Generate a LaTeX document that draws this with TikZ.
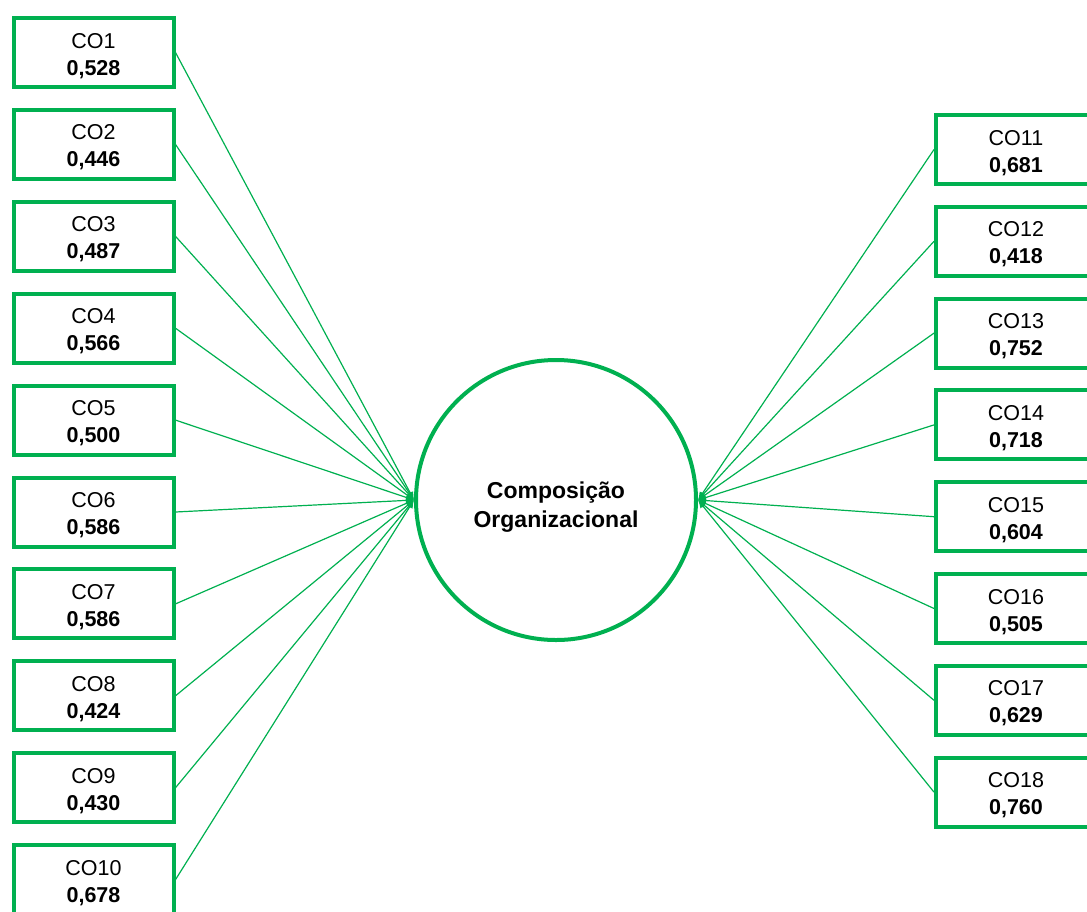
\documentclass[tikz,border=0pt]{standalone}
\usepackage{fontspec}
\setmainfont{Liberation Sans}
\usetikzlibrary{arrows.meta}
\definecolor{pls}{HTML}{00B050}
% invisible lift so the two text lines sit a little below the box centre
\newcommand{\lowerby}[1]{\rule{0pt}{#1}}
\begin{document}
\begin{tikzpicture}[x=1pt,y=-1pt,
  ind/.style={draw=pls,line width=4pt,fill=white,minimum width=160pt,minimum height=69pt,
    inner sep=0pt,align=center,font=\fontsize{21.5}{27}\selectfont},
  lat/.style={draw=pls,line width=4pt,circle,minimum size=280pt,inner sep=0pt,align=center,
    font=\bfseries\fontsize{23}{29}\selectfont},
  load/.style={draw=pls,line width=1.2pt,-{Latex[length=8pt,width=7pt]}}]
\useasboundingbox (0,0) rectangle (1087,911);
\clip (0,0) rectangle (1087,911);
\node[lat] (lv) at (556,500) {\lowerby{31pt}Composição\\Organizacional};
% left indicators
\foreach \i/\v [count=\k from 0] in {1/{0,528}, 2/{0,446}, 3/{0,487}, 4/{0,566}, 5/{0,500}, 6/{0,586}, 7/{0,586}, 8/{0,424}, 9/{0,430}, 10/{0,678}}{
  \node[ind] (co\i) at (93.5,{52.5+91.9*\k}) {\lowerby{21.5pt}CO\i\\\textbf{\v}};
  \draw[load] (co\i.east) -- (lv.west);
}
% right indicators
\foreach \i/\v [count=\k from 0] in {11/{0,681}, 12/{0,418}, 13/{0,752}, 14/{0,718}, 15/{0,604}, 16/{0,505}, 17/{0,629}, 18/{0,760}}{
  \node[ind] (co\i) at (1016,{149.5+91.8*\k}) {\lowerby{21.5pt}CO\i\\\textbf{\v}};
  \draw[load] (co\i.west) -- (lv.east);
}
\end{tikzpicture}
\end{document}
